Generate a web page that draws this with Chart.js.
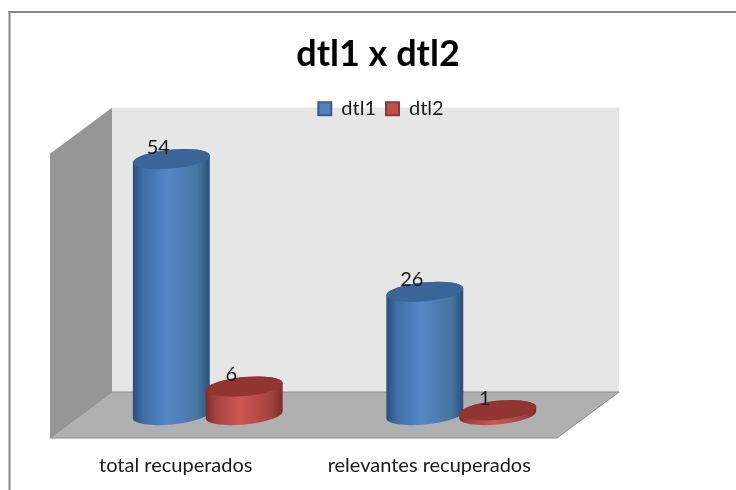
<!DOCTYPE html>
<html><head><meta charset="utf-8">
<style>html,body{margin:0;padding:0;background:#fff}#w{width:736px;height:490px}</style>
<script src="https://cdn.jsdelivr.net/npm/chart.js@4"></script>
</head><body><div id="w"><canvas id="c" width="736" height="490"></canvas></div>
<script>
const categories = ['total recuperados', 'relevantes recuperados'];
const dtl1 = [54, 26];
const dtl2 = [6, 1];
const chartTitle = 'dtl1 x dtl2';

const DEPTH_X = 31, DEPTH_Y = 23, RY = 9.5, TILT = -5.5 * Math.PI / 180;
const looks = [
  {edge:'#2b4e78', side:'#3f6ea8', mid:'#5587c8', rside:'#46759f', top:'#3a6596'},
  {edge:'#7a2c2a', side:'#a54442', mid:'#cf5653', rside:'#a04340', top:'#913533'}
];

const cylinders = {
  id: 'cylinders',
  afterLayout(chart) {
    chart.titleBlock.left += 43.5; chart.titleBlock.right += 43.5;
    chart.legend.left += 46.5; chart.legend.right += 46.5;
    chart.legend.top -= 2; chart.legend.bottom -= 2;
  },
  beforeDraw(chart) {
    const {ctx, chartArea: a} = chart;
    ctx.save();
    ctx.fillStyle = '#fff'; ctx.fillRect(0, 0, chart.width, chart.height);
    ctx.fillStyle = '#868686';
    ctx.fillRect(8.5, 11, chart.width - 8.5, 2);
    ctx.fillRect(8.5, 11, 2, chart.height - 11);
    const L = a.left - DEPTH_X, R = a.left + DEPTH_X, r = a.right + DEPTH_X, fr = a.right - DEPTH_X;
    const T = a.top - DEPTH_Y, Tf = a.top + DEPTH_Y, B = a.bottom - DEPTH_Y, Bf = a.bottom + DEPTH_Y;
    ctx.fillStyle = '#e6e6e6'; ctx.fillRect(R, T, r - R, B - T);
    ctx.fillStyle = '#969696';
    ctx.beginPath(); ctx.moveTo(L, Tf); ctx.lineTo(R, T); ctx.lineTo(R, B); ctx.lineTo(L, Bf); ctx.closePath(); ctx.fill();
    ctx.fillStyle = '#b0b0b0'; ctx.strokeStyle = '#8a8a8a'; ctx.lineWidth = 1;
    ctx.beginPath(); ctx.moveTo(L, Bf); ctx.lineTo(R, B); ctx.lineTo(r, B); ctx.lineTo(fr, Bf); ctx.closePath(); ctx.fill(); ctx.stroke();
    ctx.restore();
  },
  beforeDatasetDraw() { return false; },
  afterDatasetsDraw(chart) {
    const {ctx} = chart;
    categories.forEach((_, j) => {
      chart.data.datasets.forEach((ds, i) => {
        const el = chart.getDatasetMeta(i).data[j];
        const {x, y, base, width} = el.getProps(['x', 'y', 'base', 'width']);
        const rx = width / 2, look = looks[i];
        ctx.save();
        const g = ctx.createLinearGradient(x - rx, 0, x + rx, 0);
        g.addColorStop(0, look.edge);
        g.addColorStop(0.14, look.side);
        g.addColorStop(0.45, look.mid);
        g.addColorStop(0.85, look.rside);
        g.addColorStop(1, look.edge);
        ctx.fillStyle = g;
        ctx.beginPath();
        ctx.ellipse(x, base, rx, RY, TILT, 0, Math.PI);
        ctx.ellipse(x, y, rx, RY, TILT, Math.PI, 2 * Math.PI);
        ctx.closePath(); ctx.fill();
        ctx.fillStyle = look.top;
        ctx.beginPath(); ctx.ellipse(x, y, rx, RY, TILT, 0, 2 * Math.PI); ctx.fill();
        ctx.restore();
      });
    });
    chart.data.datasets.forEach((ds, i) => {
      chart.getDatasetMeta(i).data.forEach((el, j) => {
        ctx.save();
        ctx.font = '20px Lato'; ctx.fillStyle = '#1a1a1a';
        ctx.textAlign = 'center'; ctx.textBaseline = 'middle';
        ctx.fillText(String(ds.data[j]), el.x - 13, el.y - 12);
        ctx.restore();
      });
    });
  }
};

new Chart(document.getElementById('c'), {
  type: 'bar',
  data: {
    labels: categories,
    datasets: [
      {label: 'dtl1', data: dtl1, backgroundColor: '#4f81bd', borderColor: '#385d8a', borderWidth: 2},
      {label: 'dtl2', data: dtl2, backgroundColor: '#c0504d', borderColor: '#8c3836', borderWidth: 2}
    ]
  },
  plugins: [cylinders],
  options: {
    responsive: false, animation: false,
    categoryPercentage: 0.575, barPercentage: 1.06,
    layout: {padding: {left: 81, right: 148, top: 0, bottom: 0}},
    plugins: {
      title: {display: true, text: chartTitle, color: '#000',
        font: {family: 'Lato', size: 36, weight: 'bold', lineHeight: 1.2},
        padding: {top: 33, bottom: 14.5}},
      legend: {display: true, position: 'top',
        labels: {font: {family: 'Lato', size: 20}, color: '#1a1a1a', boxWidth: 13, boxHeight: 13, padding: 10}},
      tooltip: {enabled: false}
    },
    scales: {
      x: {
        grid: {display: false, drawTicks: false}, border: {display: false},
        afterFit(s) { s.height = 75; },
        ticks: {font: {family: 'Lato', size: 20}, color: '#1a1a1a', padding: 39, labelOffset: -32, maxRotation: 0, minRotation: 0}
      },
      y: {display: false, min: 0, max: 60}
    }
  }
});
</script></body></html>
